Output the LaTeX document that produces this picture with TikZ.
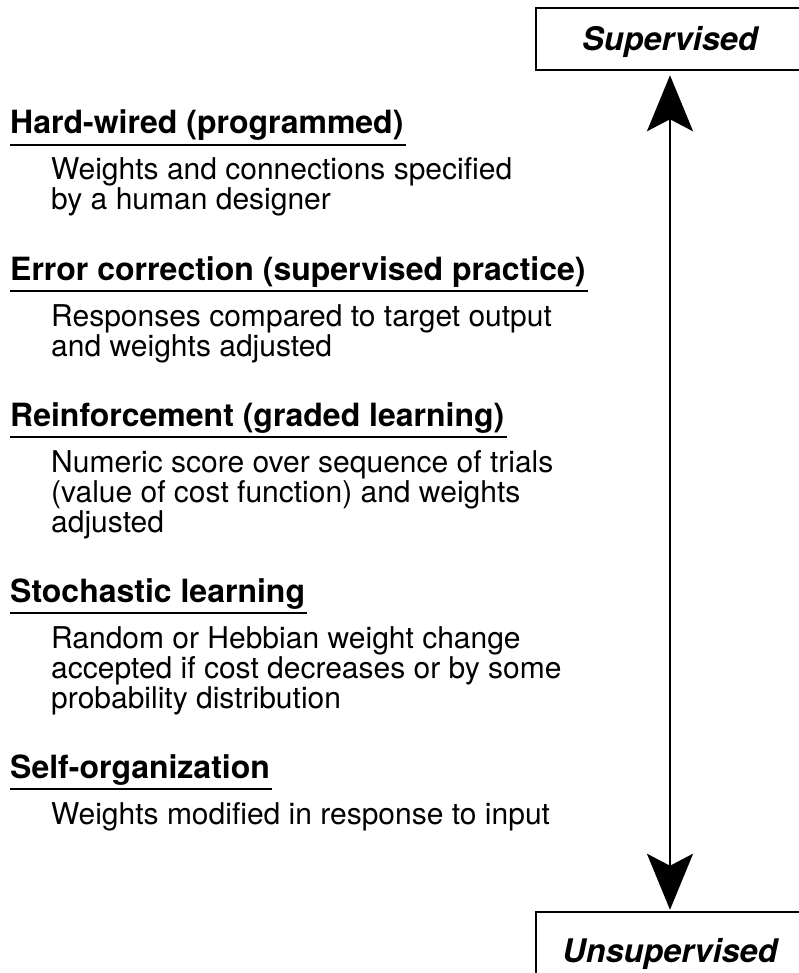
\documentclass[tikz,border=0pt]{standalone}
\usepackage{fontspec}
\setmainfont{TeX Gyre Heros}
\usetikzlibrary{arrows.meta}

\tikzset{bigtip/.tip={Stealth[length=56pt, width=46pt, inset=12pt]}}

\begin{document}
\begin{tikzpicture}[x=1pt,y=-1pt,
  head/.style={anchor=base west, inner sep=0pt, font=\fontsize{32}{32}\selectfont\bfseries},
  body/.style={anchor=base west, inner sep=0pt, font=\fontsize{30}{30}\selectfont},
  uline/.style={line width=2pt},
  endbox/.style={draw, line width=2.5pt, minimum width=268pt, inner sep=0pt,
    text height=23pt, text depth=0pt,
    font=\fontsize{32.5}{32.5}\selectfont\bfseries\itshape},
  scalearrow/.style={line width=2.5pt, {bigtip}-{bigtip}, shorten <=4pt, shorten >=1pt}]

\useasboundingbox[fill=white] (0,0) rectangle (798,973);

% end points of the scale
\node[endbox, minimum height=62pt] (sup) at (670,39) {Supervised};
\node[endbox, minimum height=78pt] (unsup) at (670,951) {Unsupervised};
\draw[scalearrow] (sup.south) -- (unsup.north);

% learning categories
\node[head] (h1) at (10,134) {Hard-wired (programmed)};
\node[body] (b1a) at (51,180) {Weights and connections specified};
\node[body] (b1b) at (51,210) {by a human designer};

\node[head] (h2) at (10,280) {Error correction (supervised practice)};
\node[body] (b2a) at (51,326) {Responses compared to target output};
\node[body] (b2b) at (51,356) {and weights adjusted};

\node[head] (h3) at (10,426) {Reinforcement (graded learning)};
\node[body] (b3a) at (51,472) {Numeric score over sequence of trials};
\node[body] (b3b) at (51,502) {(value of cost function) and weights};
\node[body] (b3c) at (51,532) {adjusted};

\node[head] (h4) at (10,602) {Stochastic learning};
\node[body] (b4a) at (51,648) {Random or Hebbian weight change};
\node[body] (b4b) at (51,678) {accepted if cost decreases or by some};
\node[body] (b4c) at (51,708) {probability distribution};

\node[head] (h5) at (10,778) {Self-organization};
\node[body] (b5a) at (51,824) {Weights modified in response to input};

% heading underlines
\foreach \h in {h1,h2,h3,h4,h5}
  \draw[uline] ([yshift=-11pt]\h.base west) -- ([yshift=-11pt,xshift=2pt]\h.base east);
\end{tikzpicture}
\end{document}
